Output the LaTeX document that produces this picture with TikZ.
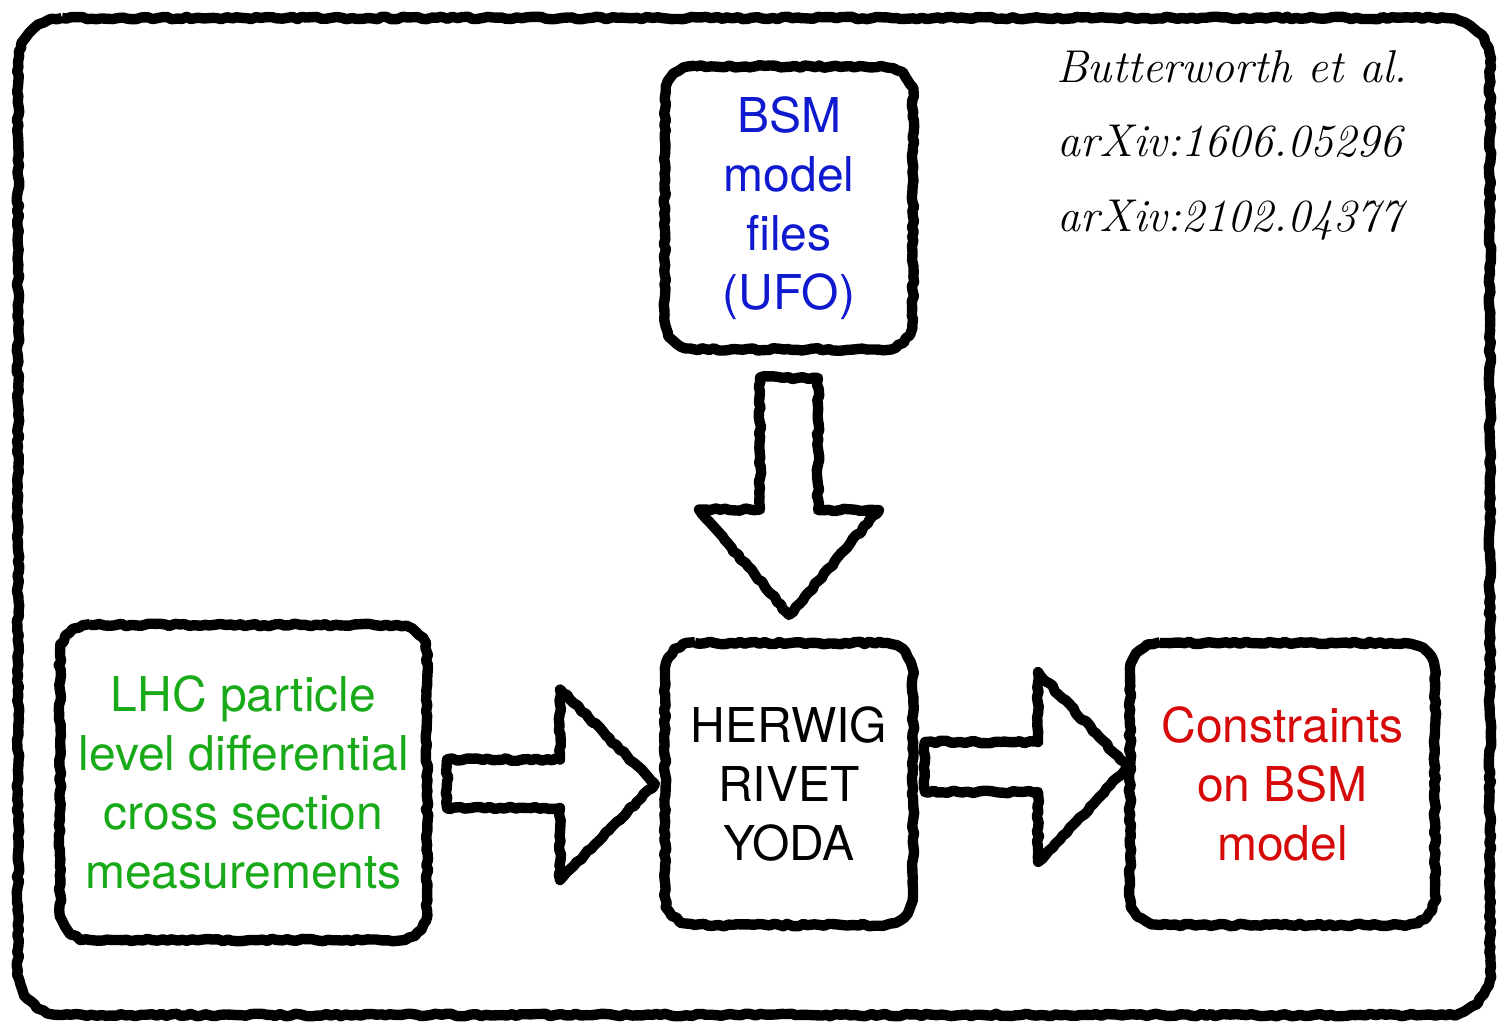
\documentclass[tikz,border=0pt]{standalone}
\usepackage{fontspec}
\usetikzlibrary{calc,decorations.pathmorphing}
\newfontfamily\boxfont{TeX Gyre Heros}
\definecolor{bsmblue}{RGB}{15,25,205}
\definecolor{lhcgreen}{RGB}{25,170,25}
\definecolor{limred}{RGB}{215,10,10}
\begin{document}
\begin{tikzpicture}[x=0.5pt, y=-0.5pt,
		rough/.style={draw, line width=5.2pt, line join=round, decorate,
			decoration={random steps, segment length=2.5pt, amplitude=0.65pt}},
		box/.style={rectangle, outer sep=0pt, align=center,
			font=\boxfont\fontsize{24}{29.5}\selectfont},
		cite/.style={anchor=base, font=\itshape\fontsize{23}{27}\selectfont}]
		\useasboundingbox (0,0) rectangle (1498,1025);

		\node[box, minimum width=736pt, minimum height=498.5pt] (frame) at (754,516.5) {};
		\node[box, text=bsmblue, minimum width=124pt, minimum height=141.5pt] (bsm) at (789,208) {BSM\\model\\files\\(UFO)};
		\node[box, minimum width=124pt, minimum height=141pt] (herwig) at (789,784) {HERWIG\\RIVET\\YODA};
		\node[box, text=lhcgreen, minimum width=183.5pt, minimum height=157.5pt] (lhc) at (243.5,782.5) {LHC particle\\level differential\\cross section\\measurements};
		\node[box, text=limred, minimum width=152.5pt, minimum height=141pt] (cons) at (1282.5,784) {Constraints\\on BSM\\model};

		\node[cite] (auth) at (1232,82) {Butterworth et al.};
		\node[cite] (arx1) at (1230,156) {arXiv:1606.05296};
		\node[cite] (arx2) at (1230,231) {arXiv:2102.04377};

		% sketchy rounded outlines
		\foreach \n/\r in {frame/22pt, bsm/15pt, herwig/15pt, lhc/15pt, cons/15pt}
			\draw[rough] ([xshift=\r]\n.north west) -- ([xshift=-\r]\n.north east)
				arc[start angle=90, end angle=0, radius=\r] -- ([yshift=\r]\n.south east)
				arc[start angle=0, end angle=-90, radius=\r] -- ([xshift=\r]\n.south west)
				arc[start angle=-90, end angle=-180, radius=\r] -- ([yshift=-\r]\n.north west)
				arc[start angle=180, end angle=90, radius=\r] -- cycle;

		% block arrows
		\draw[rough] ($(bsm.south)+(-29,28)$) -- ++(0,132) -- ++(-61,0) -- ($(herwig.north)+(0,-28)$)
			-- ++(90,-105) -- ++(-61,0) -- ++(0,-132) -- cycle;
		\draw[rough] ($(lhc.east)+(20,-23)$) -- ++(113,0) -- ++(0,-70) -- ($(herwig.west)+(-10,0)$)
			-- ++(-95,96) -- ++(0,-72) -- ++(-113,0) -- cycle;
		\draw[rough] ($(herwig.east)+(12,-42)$) -- ++(113,0) -- ++(0,-70) -- ($(cons.west)+(-2,-17)$)
			-- ++(-90,95) -- ++(0,-70) -- ++(-113,0) -- cycle;
	\end{tikzpicture}
\end{document}
